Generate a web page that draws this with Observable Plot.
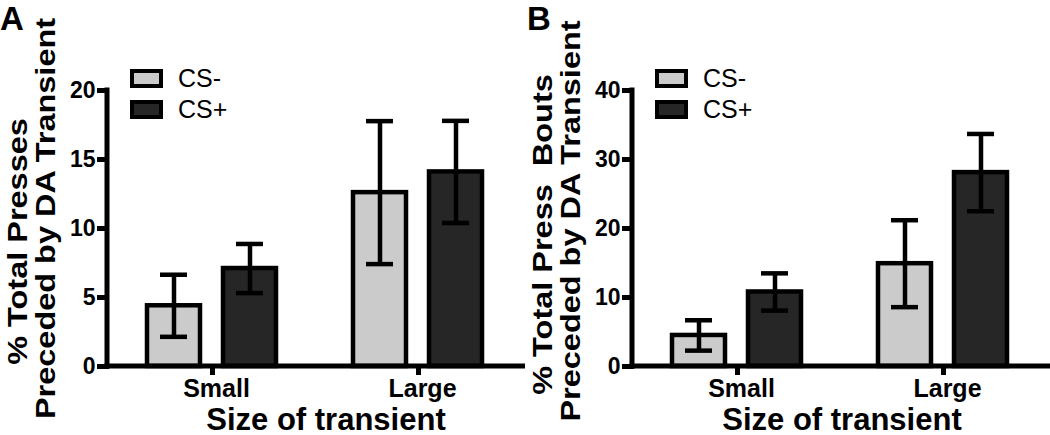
<!DOCTYPE html>
<html>
<head>
<meta charset="utf-8">
<script src="https://cdn.jsdelivr.net/npm/d3@7"></script>
<script src="https://cdn.jsdelivr.net/npm/@observablehq/plot@0.6"></script>
<style>
  body { margin: 0; background: #fff; }
  #wrap { display: flex; width: 1050px; height: 435px; }
  #wrap svg { display: block; }
</style>
</head>
<body>
<div id="wrap"></div>
<script>
// ---- data ----
const groups = ["Small", "Large"];
const series = ["CS-", "CS+"];
const seriesColors = ["#cbcbcb", "#262626"];
// order: Small CS-, Small CS+, Large CS-, Large CS+
const pressesMean = [4.4, 7.1, 12.6, 14.1];
const pressesErr  = [2.25, 1.78, 5.18, 3.7];
const boutsMean   = [4.5, 10.8, 14.9, 28.1];
const boutsErr    = [2.2, 2.7, 6.3, 5.6];
const pressesTicks = [0, 5, 10, 15, 20];
const boutsTicks   = [0, 10, 20, 30, 40];
const panelLetters = ["A", "B"];
const pressesTitle = ["% Total Presses", "Preceded by DA Transient"];
const boutsTitle   = ["% Total Press  Bouts", "Preceded by DA Transient"];
const xTitle = "Size of transient";

const FONT = "'Liberation Sans', Arial, Helvetica, sans-serif";

function makePanel(cfg) {
  const rows = groups.flatMap((g, gi) => series.map((s, si) => ({
    group: g, series: s, value: cfg.means[gi * 2 + si], err: cfg.errs[gi * 2 + si]
  })));
  const yMax = cfg.ticks[cfg.ticks.length - 1];
  const W = 525, H = 435, ML = 107, MR = 2, MT = 90, MB = 69, SW = 4.5, AW = 5;

  const plot = Plot.plot({
    width: W, height: H,
    marginLeft: ML, marginRight: MR, marginTop: MT, marginBottom: MB,
    style: { fontFamily: FONT, background: "#fff", overflow: "visible", color: "#000" },
    fx: { domain: groups, paddingInner: 0, paddingOuter: 0.0085, label: null },
    x: { domain: series, paddingInner: 0.30, paddingOuter: 0.49, axis: null },
    y: { domain: [0, yMax], label: null },
    color: { domain: series, range: seriesColors },
    marks: [
      Plot.barY(rows, { fx: "group", x: "series", y: "value", fill: "series", stroke: "#000", strokeWidth: SW }),
      Plot.ruleX(rows, { fx: "group", x: "series", y1: d => d.value - d.err, y2: d => d.value + d.err, stroke: "#000", strokeWidth: SW }),
      Plot.tickY(rows, { fx: "group", x: "series", y: d => d.value + d.err, stroke: "#000", strokeWidth: SW, insetLeft: 13, insetRight: 13 }),
      Plot.tickY(rows, { fx: "group", x: "series", y: d => d.value - d.err, stroke: "#000", strokeWidth: SW, insetLeft: 13, insetRight: 13 }),
      Plot.axisY({ ticks: cfg.ticks, tickSize: 12, tickPadding: 2, strokeWidth: AW, fontSize: 23, fontWeight: "bold", label: null, tickFormat: d => String(d) }),
      Plot.axisFx({ anchor: "bottom", tickSize: 9, tickPadding: 4, strokeWidth: AW, fontSize: 25, fontWeight: "bold", label: null })
    ]
  });

  const svg = d3.select(plot);
  // enforce tick label styling
  svg.selectAll('g[aria-label="y-axis tick label"]').attr("font-size", 23).attr("font-weight", "bold");
  svg.selectAll('g[aria-label="fx-axis tick label"]').attr("font-size", 25).attr("font-weight", "bold")
    .selectAll("text").attr("dx", 4);

  const y = plot.scale("y");
  const y0 = y.apply(0), yTop = y.apply(yMax);
  const g = svg.append("g").attr("stroke", "#000").attr("stroke-width", AW).attr("stroke-linecap", "square");
  g.append("line").attr("x1", ML).attr("x2", ML).attr("y1", yTop).attr("y2", y0);
  g.append("line").attr("x1", ML).attr("x2", W - MR).attr("y1", y0).attr("y2", y0);

  // legend
  const lg = svg.append("g").attr("text-anchor", "start");
  series.forEach((s, i) => {
    lg.append("rect").attr("x", 132).attr("y", 71 + 31 * i).attr("width", 29).attr("height", 15)
      .attr("fill", seriesColors[i]).attr("stroke", "#000").attr("stroke-width", 4);
    lg.append("text").attr("x", 178).attr("y", 87 + 31 * i).attr("font-size", 25)
      .attr("text-anchor", "start").attr("font-weight", "normal")
      .attr("font-family", FONT).attr("fill", "#000").text(s);
  });

  // panel letter
  svg.append("text").attr("x", cfg.letterX).attr("y", 29.5).attr("font-size", 33).attr("font-weight", "bold")
    .attr("text-anchor", "start").attr("font-family", FONT).attr("fill", "#000").text(cfg.letter);

  // y title (two lines)
  cfg.title.forEach((t, i) => {
    svg.append("text")
      .attr("transform", `translate(${27 + 28 * i},${cfg.titleCenters[i]}) rotate(-90) scale(1.16,1)`)
      .attr("text-anchor", "middle").attr("font-size", 28).attr("font-weight", "bold")
      .attr("font-family", FONT).attr("fill", "#000")
      .style("white-space", "pre").text(t);
  });

  // x title
  svg.append("text").attr("x", cfg.xTitleCenter).attr("y", 430).attr("text-anchor", "middle")
    .attr("font-size", 31).attr("font-weight", "bold").attr("font-family", FONT).attr("fill", "#000")
    .text(xTitle);

  return plot;
}

const wrap = document.getElementById("wrap");
wrap.appendChild(makePanel({
  letter: panelLetters[0], letterX: 0, means: pressesMean, errs: pressesErr, ticks: pressesTicks,
  title: pressesTitle, titleCenters: [241.5, 218.5], xTitleCenter: 326
}));
wrap.appendChild(makePanel({
  letter: panelLetters[1], letterX: 2, means: boutsMean, errs: boutsErr, ticks: boutsTicks,
  title: boutsTitle, titleCenters: [234.5, 221], xTitleCenter: 317
}));
</script>
</body>
</html>
